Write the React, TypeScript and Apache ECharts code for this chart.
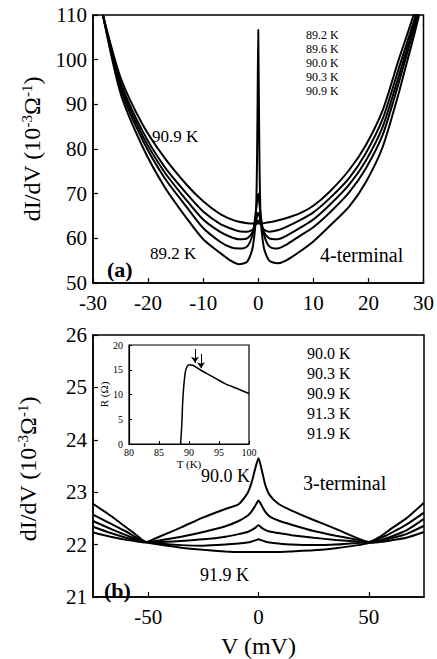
import React, { useEffect, useRef } from "react";
import * as echarts from "echarts";

// ---------- Panel (a): 4-terminal dI/dV vs V (mV) ----------
const V_TOP = [-28.2, -25, -21, -17, -13, -10, -7, -5, -3.5, -2, -1, -0.4, -0.15, 0, 0.15, 0.4, 1, 2, 3.5, 5, 7.5, 10, 13, 16.5, 19.5, 22.6, 25.5, 27, 28.2, 29.2];
const A_892 = [110, 92.5, 80.5, 71.5, 64.5, 59.8, 56.8, 55.0, 54.2, 54.8, 58, 66, 86, 106.7, 86, 66, 58, 55, 54.4, 55, 57.0, 59.3, 62.8, 67.1, 72.5, 80.5, 92.5, 99.5, 105, 110];
const A_896 = [110, 93.5, 82, 73.5, 67, 62.3, 59.3, 58.0, 57.7, 58.2, 61, 66.5, 69, 70, 68.5, 65.5, 61, 58.2, 57.7, 58.5, 60.5, 62.5, 65.8, 70.3, 75.6, 83.2, 94.8, 101.3, 106.5, 110.5];
const A_900 = [110, 94.3, 83, 74.8, 68.5, 64.2, 61.5, 60.3, 59.8, 60.0, 61.5, 64, 65.3, 65.7, 65.3, 64, 61.5, 60.0, 59.8, 60.5, 62.3, 64.2, 67.5, 72.0, 77.3, 85.0, 96.3, 102.5, 107.5, 111.5];
const A_903 = [110, 95, 84, 76, 70, 66, 63.3, 62.2, 61.6, 61.5, 62.0, 63.2, 63.8, 64.0, 63.8, 63.2, 62.0, 61.5, 61.8, 62.5, 64.0, 65.8, 69.0, 73.5, 79.0, 86.8, 98.0, 103.8, 108.5, 112.5];
const A_909 = [110, 96, 85.5, 78, 72, 68.3, 65.5, 64.3, 63.7, 63.4, 63.3, 63.3, 63.3, 63.3, 63.3, 63.3, 63.4, 63.6, 64.0, 64.5, 65.6, 67.3, 70.5, 75.3, 80.8, 88.7, 100, 105.5, 110, 114];
const TEMPS_A = ["89.2 K", "89.6 K", "90.0 K", "90.3 K", "90.9 K"];

// ---------- Panel (b): 3-terminal ----------
const V_BOT = [-75, -67, -60, -55, -51, -45, -35, -25, -15, -9, -5, -3, -1.5, 0, 1.5, 3, 5, 9, 15, 25, 35, 45, 50, 55, 60, 67, 75];
const B_900 = [22.78, 22.55, 22.33, 22.17, 22.05, 22.15, 22.33, 22.52, 22.68, 22.77, 22.98, 23.2, 23.45, 23.65, 23.42, 23.15, 22.95, 22.78, 22.65, 22.47, 22.3, 22.12, 22.05, 22.15, 22.3, 22.5, 22.8];
const B_903 = [22.57, 22.4, 22.25, 22.13, 22.05, 22.08, 22.15, 22.24, 22.35, 22.45, 22.55, 22.64, 22.74, 22.84, 22.74, 22.63, 22.54, 22.46, 22.38, 22.26, 22.17, 22.09, 22.05, 22.12, 22.22, 22.38, 22.61];
const B_909 = [22.45, 22.3, 22.18, 22.1, 22.05, 22.05, 22.07, 22.1, 22.15, 22.2, 22.24, 22.28, 22.32, 22.37, 22.32, 22.28, 22.25, 22.22, 22.18, 22.13, 22.09, 22.06, 22.05, 22.08, 22.15, 22.27, 22.49];
const B_913 = [22.34, 22.22, 22.13, 22.08, 22.05, 22.02, 21.99, 21.98, 22.0, 22.02, 22.04, 22.06, 22.08, 22.1, 22.08, 22.06, 22.04, 22.02, 22.0, 21.99, 22.0, 22.03, 22.05, 22.07, 22.12, 22.2, 22.36];
const B_919 = [22.23, 22.15, 22.09, 22.06, 22.04, 22.0, 21.94, 21.9, 21.87, 21.86, 21.86, 21.86, 21.86, 21.86, 21.86, 21.86, 21.86, 21.86, 21.87, 21.89, 21.93, 21.99, 22.03, 22.05, 22.08, 22.13, 22.24];
const TEMPS_B = ["90.0 K", "90.3 K", "90.9 K", "91.3 K", "91.9 K"];
const V_BOT_TICKS = [-50, 0, 50];

// ---------- Inset: R vs T ----------
const T_INSET = [88.6, 88.8, 88.95, 89.15, 89.4, 89.7, 90.1, 90.6, 91.2, 92, 93, 94.5, 96, 98, 100];
const R_INSET = [0, 4, 8.5, 12, 14.6, 15.7, 16.0, 15.9, 15.5, 14.9, 14.2, 13.2, 12.2, 11.2, 10.2];
const ARROW_T = [91, 92];
const ARROW_R_FROM = [19.2, 18.2];
const ARROW_R_TO = [16.4, 15.3];

const SERIF = "'Liberation Serif', 'Times New Roman', serif";

const pairs = (xs: number[], ys: number[]) => xs.map((x, i) => [x, ys[i]]);

function App() {
  const ref = useRef<HTMLDivElement>(null);
  useEffect(() => {
    if (!ref.current) return;
    const chart = echarts.init(ref.current, undefined, { renderer: "svg" });

    const axisLine = { show: true, onZero: false, lineStyle: { color: "#000", width: 1.5 } };
    const tick = { show: true, inside: true, length: 5, lineStyle: { color: "#000", width: 1.2 } };
    const label = { color: "#000", fontFamily: SERIF, fontSize: 21 };

    const lineSeries = (name: string, data: number[][], xi: number, smooth: number) => ({
      type: "line",
      name,
      xAxisIndex: xi,
      yAxisIndex: xi,
      data,
      showSymbol: false,
      smooth,
      lineStyle: { color: "#000", width: 2 },
      itemStyle: { color: "#000" },
      clip: true,
      silent: true,
    });

    const titleRich = {
      m: { fontSize: 24, fontFamily: SERIF, color: "#000", lineHeight: 26 },
      s: { fontSize: 15, fontFamily: SERIF, color: "#000", verticalAlign: "top", lineHeight: 26 },
    };
    const titleText = "{m|dI/dV (10}{s|-3}{m|Ω}{s|-1}{m|)}";

    const listA = TEMPS_A.map((t, i) => ({
      type: "text", x: 306, y: 35 + i * 14,
      style: { text: t, font: `12px ${SERIF}`, fill: "#000", align: "left", verticalAlign: "middle" },
    }));
    const listB = TEMPS_B.map((t, i) => ({
      type: "text", x: 307, y: 353 + i * 20,
      style: { text: t, font: `16px ${SERIF}`, fill: "#000", align: "left", verticalAlign: "middle" },
    }));

    const option: any = {
      animation: false,
      backgroundColor: "#fff",
      grid: [
        { left: 93, top: 15, width: 331, height: 268, show: true, borderColor: "#000", borderWidth: 1.5, backgroundColor: "transparent" },
        { left: 93, top: 335, width: 331, height: 268, show: true, borderColor: "#000", borderWidth: 1.5, backgroundColor: "transparent" },
        { left: 129, top: 345, width: 120, height: 99, show: true, borderColor: "#000", borderWidth: 1.2, backgroundColor: "#fff", z: 5 },
      ],
      xAxis: [
        {
          gridIndex: 0, type: "value", min: -30, max: 30, interval: 10,
          axisLine, axisTick: tick, splitLine: { show: false },
          axisLabel: { ...label, margin: 9 },
        },
        {
          gridIndex: 1, type: "value", min: -75, max: 75, interval: 25,
          axisLine, splitLine: { show: false },
          axisTick: { ...tick, customValues: V_BOT_TICKS },
          axisLabel: { ...label, margin: 9, customValues: V_BOT_TICKS },
          name: "V (mV)", nameLocation: "middle", nameGap: 37,
          nameTextStyle: { color: "#000", fontFamily: SERIF, fontSize: 24 },
        },
        {
          gridIndex: 2, type: "value", min: 80, max: 100, interval: 5, z: 6,
          axisLine: { show: true, onZero: false, lineStyle: { color: "#000", width: 1.2 } },
          axisTick: { show: true, inside: true, length: 3, lineStyle: { color: "#000", width: 1 } },
          splitLine: { show: false },
          axisLabel: { color: "#000", fontFamily: SERIF, fontSize: 10, margin: 3 },
          name: "T (K)", nameLocation: "middle", nameGap: 14,
          nameTextStyle: { color: "#000", fontFamily: SERIF, fontSize: 11 },
        },
      ],
      yAxis: [
        {
          gridIndex: 0, type: "value", min: 50, max: 110, interval: 10,
          axisLine, axisTick: tick, splitLine: { show: false },
          axisLabel: { ...label, margin: 6 },
        },
        {
          gridIndex: 1, type: "value", min: 21, max: 26, interval: 1,
          axisLine, axisTick: tick, splitLine: { show: false },
          axisLabel: { ...label, margin: 6 },
        },
        {
          gridIndex: 2, type: "value", min: 0, max: 20, interval: 5, z: 6,
          axisLine: { show: true, onZero: false, lineStyle: { color: "#000", width: 1.2 } },
          axisTick: { show: true, inside: true, length: 3, lineStyle: { color: "#000", width: 1 } },
          splitLine: { show: false },
          axisLabel: { color: "#000", fontFamily: SERIF, fontSize: 10, margin: 6 },
          name: "R (Ω)", nameLocation: "middle", nameGap: 17, nameRotate: 90,
          nameTextStyle: { color: "#000", fontFamily: SERIF, fontSize: 11 },
        },
      ],
      series: [
        lineSeries("89.2 K", pairs(V_TOP, A_892), 0, 0.25),
        lineSeries("89.6 K", pairs(V_TOP, A_896), 0, 0.25),
        lineSeries("90.0 K", pairs(V_TOP, A_900), 0, 0.25),
        lineSeries("90.3 K", pairs(V_TOP, A_903), 0, 0.25),
        lineSeries("90.9 K", pairs(V_TOP, A_909), 0, 0.25),
        lineSeries("b 90.0 K", pairs(V_BOT, B_900), 1, 0.2),
        lineSeries("b 90.3 K", pairs(V_BOT, B_903), 1, 0.2),
        lineSeries("b 90.9 K", pairs(V_BOT, B_909), 1, 0.2),
        lineSeries("b 91.3 K", pairs(V_BOT, B_913), 1, 0.2),
        lineSeries("b 91.9 K", pairs(V_BOT, B_919), 1, 0.2),
        {
          ...lineSeries("R(T)", pairs(T_INSET, R_INSET), 2, 0.3),
          z: 7,
          lineStyle: { color: "#000", width: 1.5 },
          markLine: {
            silent: true,
            symbol: ["none", "arrow"],
            symbolSize: 6,
            label: { show: false },
            lineStyle: { color: "#000", width: 1, type: "solid" },
            data: ARROW_T.map((t, i) => [
              { coord: [t, ARROW_R_FROM[i]] },
              { coord: [t, ARROW_R_TO[i]] },
            ]),
          },
        },
      ],
      graphic: [
        { type: "text", x: 32, y: 149, rotation: Math.PI / 2, style: { text: titleText, rich: titleRich, align: "center", verticalAlign: "middle" } },
        { type: "text", x: 28, y: 469, rotation: Math.PI / 2, style: { text: titleText, rich: titleRich, align: "center", verticalAlign: "middle" } },
        ...listA,
        { type: "text", x: 152, y: 136, style: { text: "90.9 K", font: `17px ${SERIF}`, fill: "#000", align: "left", verticalAlign: "middle" } },
        { type: "text", x: 150, y: 253, style: { text: "89.2 K", font: `17px ${SERIF}`, fill: "#000", align: "left", verticalAlign: "middle" } },
        { type: "text", x: 107, y: 269, style: { text: "(a)", font: `bold 22px ${SERIF}`, fill: "#000", align: "left", verticalAlign: "middle" } },
        { type: "text", x: 320, y: 255, style: { text: "4-terminal", font: `20px ${SERIF}`, fill: "#000", align: "left", verticalAlign: "middle" } },
        ...listB,
        { type: "text", x: 201, y: 476, style: { text: "90.0 K", font: `18px ${SERIF}`, fill: "#000", align: "left", verticalAlign: "middle" } },
        { type: "text", x: 303, y: 483, style: { text: "3-terminal", font: `20px ${SERIF}`, fill: "#000", align: "left", verticalAlign: "middle" } },
        { type: "text", x: 200, y: 575, style: { text: "91.9 K", font: `18px ${SERIF}`, fill: "#000", align: "left", verticalAlign: "middle" } },
        { type: "text", x: 104, y: 590, style: { text: "(b)", font: `bold 22px ${SERIF}`, fill: "#000", align: "left", verticalAlign: "middle" } },
      ],
    };
    chart.setOption(option);
    return () => chart.dispose();
  }, []);
  return <div ref={ref} style={{ position: "fixed", left: 0, top: 0, width: 437, height: 659, background: "#fff" }} />;
}

export default App;
